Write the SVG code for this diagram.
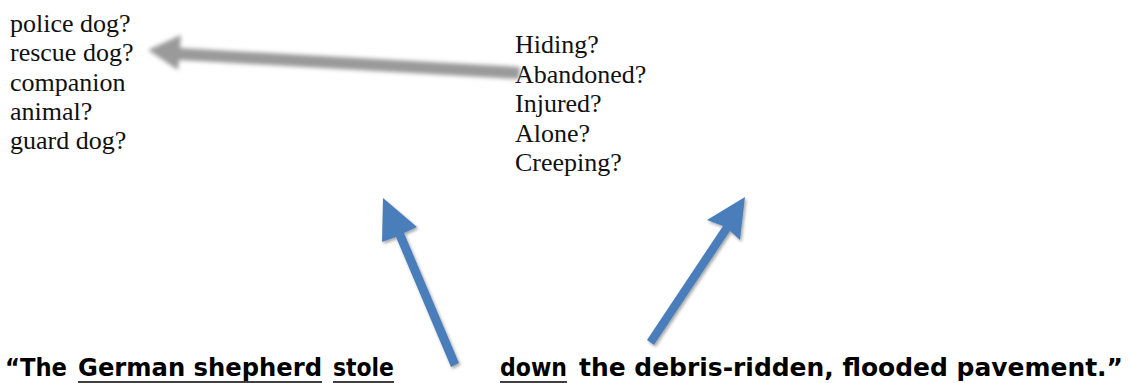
<svg xmlns="http://www.w3.org/2000/svg" width="1130" height="383" viewBox="0 0 1130 383">
<style>
.serif{font-family:"Liberation Serif","Times New Roman",serif;font-size:26px;fill:#111}
.sent{font-family:"Comic Sans MS","DejaVu Sans",sans-serif;font-weight:bold;font-size:25px;fill:#000}
.ul{stroke:#000;stroke-width:1.6}
</style>
<defs>
<filter id="blur" x="-20%" y="-50%" width="140%" height="200%"><feGaussianBlur stdDeviation="2.2"/></filter>
<filter id="sh" x="-20%" y="-20%" width="140%" height="140%"><feDropShadow dx="1.5" dy="2" stdDeviation="1.5" flood-color="#000" flood-opacity="0.35"/></filter>
</defs>
<g id="left-list">
<text class="serif" x="10" y="32">police dog?</text>
<text class="serif" x="10" y="61">rescue dog?</text>
<text class="serif" x="10" y="90.5">companion</text>
<text class="serif" x="10" y="120">animal?</text>
<text class="serif" x="10" y="149">guard dog?</text>
</g>
<g id="right-list">
<text class="serif" x="515" y="53">Hiding?</text>
<text class="serif" x="515" y="82.5">Abandoned?</text>
<text class="serif" x="515" y="112">Injured?</text>
<text class="serif" x="515" y="141.5">Alone?</text>
<text class="serif" x="515" y="171">Creeping?</text>
</g>
<g id="sentence">
<text class="sent" x="5" y="376" textLength="62" lengthAdjust="spacingAndGlyphs">“The</text>
<text class="sent" x="78" y="376" textLength="244" lengthAdjust="spacingAndGlyphs">German shepherd</text>
<text class="sent" x="333" y="376" textLength="61" lengthAdjust="spacingAndGlyphs">stole</text>
<text class="sent" x="500" y="376" textLength="67" lengthAdjust="spacingAndGlyphs">down</text>
<text class="sent" x="579" y="376" textLength="544" lengthAdjust="spacingAndGlyphs">the debris-ridden, flooded pavement.”</text>
<line class="ul" x1="78" y1="382" x2="322" y2="382"/>
<line class="ul" x1="333" y1="382" x2="394" y2="382"/>
<line class="ul" x1="500" y1="382" x2="567" y2="382"/>
</g>
<g id="connectors">
<g filter="url(#blur)" fill="#9a9a9a">
<polygon points="148,50 181,35 180,48 520,67 519,79 179,60 178,70"/>
</g>
<g filter="url(#sh)" fill="#4a7ebb">
<polygon points="383,198 417,227 404,233 459,363 451,367 396,237 382,242"/>
<polygon points="745,197 740,240 730,231 654,345 647,340 723,226 707,220"/>
</g>
</g>
</svg>
